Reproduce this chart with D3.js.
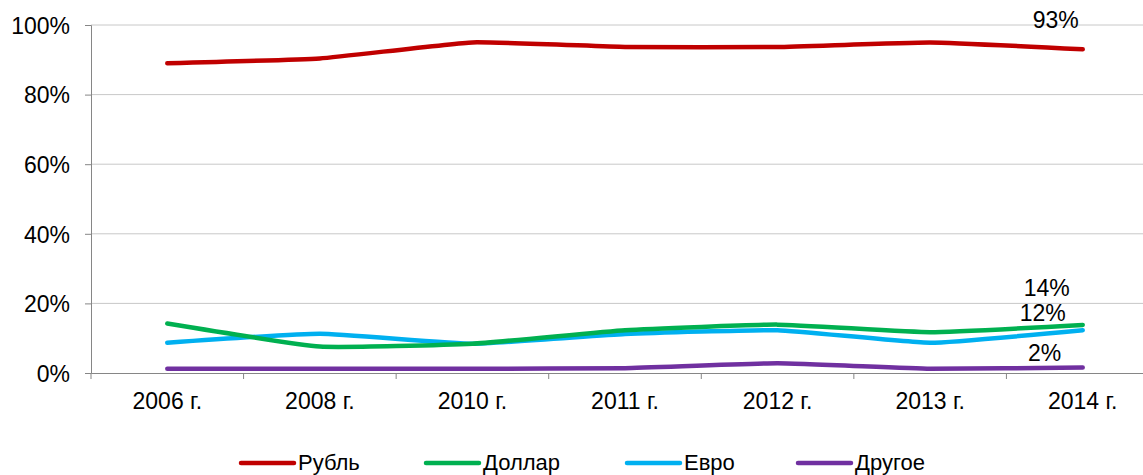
<!DOCTYPE html>
<html><head><meta charset="utf-8">
<script src="https://cdn.jsdelivr.net/npm/d3@7"></script>
<style>body{margin:0;background:#fff;}svg{display:block;font-family:"Liberation Sans",Arial,sans-serif;}</style>
</head><body><svg id="c" width="1143" height="475"></svg>
<script>
const categories = ["2006 г.","2008 г.","2010 г.","2011 г.","2012 г.","2013 г.","2014 г."];
const rubl   = [89, 90.4, 95, 93.7, 93.7, 95, 93];
const dollar = [14.2, 7.6, 8.4, 12.3, 13.9, 11.7, 13.8];
const euro   = [8.7, 11.3, 8.4, 11.2, 12.3, 8.7, 12.3];
const other  = [1.2, 1.2, 1.2, 1.4, 2.8, 1.2, 1.6];
const seriesNames = ["Рубль","Доллар","Евро","Другое"];
const yTicks = [0,20,40,60,80,100];
const endLabels = ["93%","14%","12%","2%"];

const colors = ["#C00000","#00B050","#00B0F0","#7030A0"];
const data = [rubl, dollar, euro, other];
const FS = 23;
const svg = d3.select("#c");
const L = 91, R = 1159, T = 25, B = 373;
const x = d3.scaleBand().domain(categories).range([L, R]);
const y = d3.scaleLinear().domain([0,100]).range([B, T]);

// gridlines
svg.append("g").selectAll("line").data(yTicks.filter(d=>d>0)).join("line")
  .attr("x1", L).attr("x2", R).attr("y1", d=>y(d)).attr("y2", d=>y(d))
  .attr("stroke", "#C8C8C8").attr("stroke-width", 1);

// y axis
const ya = svg.append("g").attr("transform", `translate(${L},0)`)
  .call(d3.axisLeft(y).tickValues(yTicks).tickFormat(d=>d+"%").tickSize(6).tickPadding(15));
ya.select(".domain").attr("stroke","#868686");
ya.selectAll(".tick line").attr("stroke","#868686");
ya.selectAll("text").attr("font-size",FS).attr("fill","#000").attr("font-family","Liberation Sans, Arial").attr("dy","0.36em");

// x axis
const xa = svg.append("g").attr("transform", `translate(0,${B})`)
  .call(d3.axisBottom(x).tickSize(0).tickPadding(20));
xa.select(".domain").attr("stroke","#868686");
xa.selectAll("text").attr("font-size",FS).attr("fill","#000").attr("font-family","Liberation Sans, Arial");
// boundary ticks
const bounds = categories.map(c=>x(c)).concat([R]);
svg.append("g").selectAll("line").data(bounds).join("line")
  .attr("x1", d=>d).attr("x2", d=>d).attr("y1", B).attr("y2", B+6).attr("stroke","#868686");

// lines
const line = d3.line().x((d,i)=>x(categories[i]) + x.bandwidth()/2).y(d=>y(d)).curve(d3.curveCardinal.tension(0.6));
data.slice().reverse().forEach((s,k)=>{
  const i = data.length-1-k;
  svg.append("path").datum(s).attr("d", line).attr("fill","none")
    .attr("stroke", colors[i]).attr("stroke-width", 4.5).attr("stroke-linecap","round").attr("stroke-linejoin","round");
});

// end labels
const lastX = x(categories[6]) + x.bandwidth()/2;
const labelPos = [[lastX-27, 28],[lastX-36, 296],[lastX-40, 321],[lastX-38, 361]];
endLabels.forEach((t,i)=>{
  svg.append("text").attr("x", labelPos[i][0]).attr("y", labelPos[i][1]).attr("text-anchor","middle")
    .attr("font-size",FS).attr("fill","#000").text(t);
});

// legend
const legX = [241, 426, 627, 798];
seriesNames.forEach((n,i)=>{
  const g = svg.append("g");
  g.append("line").attr("x1", legX[i]).attr("x2", legX[i]+53).attr("y1", 463).attr("y2", 463)
    .attr("stroke", colors[i]).attr("stroke-width", 4.5).attr("stroke-linecap","round");
  g.append("text").attr("x", legX[i]+57).attr("y", 470).attr("font-size",22).attr("fill","#000").text(n);
});
</script></body></html>
